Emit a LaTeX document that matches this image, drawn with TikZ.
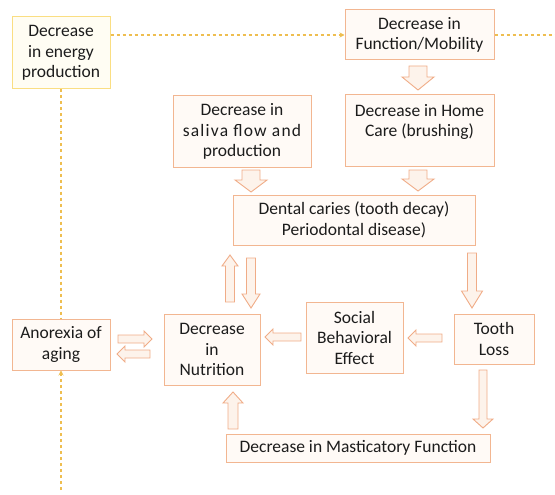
\documentclass[tikz,border=0pt]{standalone}
\usepackage{fontspec}
\setmainfont{Carlito}
\usetikzlibrary{arrows.meta}
\definecolor{boxline}{RGB}{242,182,145}
\definecolor{boxfill}{RGB}{255,250,246}
\definecolor{energyline}{RGB}{250,222,130}
\definecolor{energyfill}{RGB}{255,253,243}
\definecolor{dotline}{RGB}{238,190,80}
\definecolor{arrline}{RGB}{240,172,135}
\definecolor{arrfill}{RGB}{253,243,235}
\definecolor{txt}{RGB}{28,28,28}
\tikzset{
 box/.style={draw=boxline, fill=boxfill, line width=1pt, inner sep=0pt, align=center, text=txt, font=\fontsize{17.5}{20.5}\selectfont},
 ebox/.style={box, draw=energyline, fill=energyfill},
 blockarr/.style={draw=arrline, fill=arrfill, line width=0.9pt, line join=miter},
 dotlink/.style={draw=dotline, line width=1.3pt, dash pattern=on 3pt off 3pt},
 dothead/.style={-{Stealth[length=5pt,width=5pt]}},
}
% #1 x, #2 y (pixel, base), #3 angle, #4 length, #5 shaft half, #6 head half, #7 head length
\newcommand\myblockarrow[7]{%
 \begin{scope}[shift={(#1,-#2)},rotate=#3]
 \draw[blockarr] (0,-#5) -- ({#4-#7},-#5) -- ({#4-#7},-#6) -- (#4,0) -- ({#4-#7},#6) -- ({#4-#7},#5) -- (0,#5) -- cycle;
 \end{scope}}
\begin{document}
\begin{tikzpicture}[x=1pt,y=1pt]
\useasboundingbox (0,0) rectangle (555,-495);
% boxes
\node[ebox, minimum width=98, minimum height=72] (energy) at (61,-53) {Decrease\\in energy\\production};
\node[box, minimum width=149, minimum height=50] (func) at (419.5,-35) {Decrease in\\Function/Mobility};
\node[box, minimum width=149, minimum height=71] (home) at (419.5,-130.5) {Decrease in Home\\Care (brushing)\\~};
\node[box, minimum width=138, minimum height=71] (saliva) at (242,-131.5) {Decrease in\\{\addfontfeature{LetterSpace=7}saliva flow and}\\production};
\node[box, minimum width=242, minimum height=50] (dental) at (354,-220) {Dental caries (tooth decay)\\Periodontal disease)};
\node[box, minimum width=80, minimum height=50] (tooth) at (494,-339) {Tooth\\Loss};
\node[box, minimum width=97, minimum height=71] (social) at (354.5,-337.5) {Social\\Behavioral\\Effect};
\node[box, minimum width=96, minimum height=71] (nutr) at (212,-349.5) {Decrease\\in\\Nutrition};
\node[box, minimum width=98, minimum height=51] (anorexia) at (61,-344.5) {Anorexia of\\aging};
\node[box, minimum width=264, minimum height=28] (mastic) at (358,-448) {Decrease in Masticatory Function};
% dotted links
\coordinate (rightend) at (555,-35);
\coordinate (bottomend) at (61,-490);
\draw[dotlink, dothead] (energy.east |- func.west) -- (func.west);
\draw[dotlink] (func.east) -- (rightend);
\draw[dotlink] (energy.south) -- (anorexia.north);
\draw[dotlink, dothead] (bottomend) -- (anorexia.south);
% block arrows
\myblockarrow{418}{66}{-90}{24}{9}{16}{13}
\myblockarrow{418}{170}{-90}{21}{9}{16}{12}
\myblockarrow{251}{170}{-90}{22}{9}{16}{12}
\myblockarrow{472}{253}{-90}{55}{4.5}{10.5}{17}
\myblockarrow{230}{302}{90}{47}{4.5}{8}{11}
\myblockarrow{251}{258}{-90}{50}{4.5}{9}{14}
\myblockarrow{442}{338}{180}{34}{4}{8}{8}
\myblockarrow{301}{337}{180}{36}{4}{8}{8}
\myblockarrow{118}{339}{0}{34}{4}{8}{8}
\myblockarrow{150}{354}{180}{33}{4}{8}{8}
\myblockarrow{483}{370}{-90}{58}{4}{10}{9}
\myblockarrow{233}{429}{90}{37}{5}{10}{11}
\end{tikzpicture}
\end{document}
